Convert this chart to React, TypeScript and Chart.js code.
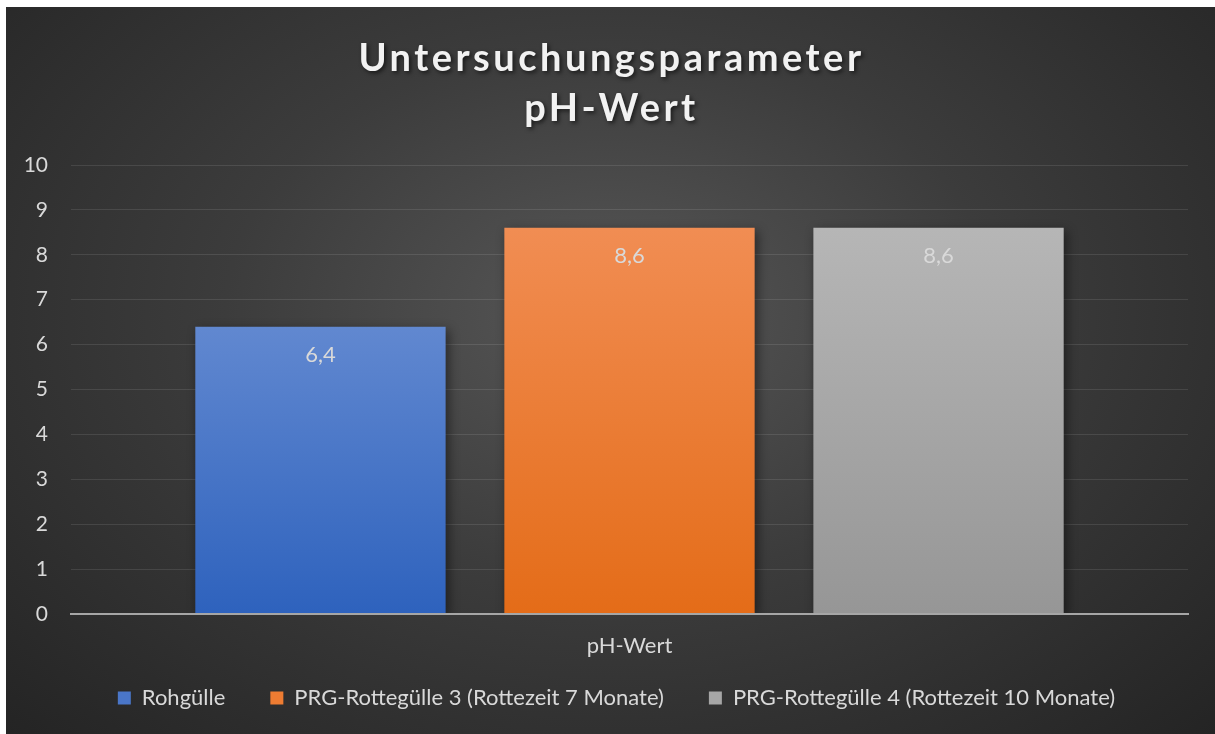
import React, { useEffect, useRef } from 'react';
import { Chart, registerables } from 'chart.js';

Chart.register(...registerables);

const categories = ['pH-Wert'];
const seriesNames = [
  'Rohgülle',
  'PRG-Rottegülle 3 (Rottezeit 7 Monate)',
  'PRG-Rottegülle 4 (Rottezeit 10 Monate)',
];
const rohguelleValues = [6.4];
const rotte3Values = [8.6];
const rotte4Values = [8.6];
const yTickValues = [0, 1, 2, 3, 4, 5, 6, 7, 8, 9, 10];
const titleLines = ['Untersuchungsparameter', 'pH-Wert'];

const topColors = ['#6188d0', '#f18d53', '#b6b6b6'];
const bottomColors = ['#2e62bd', '#e46c18', '#969696'];
const legendColors = ['#4a76c8', '#ee7c32', '#a6a6a6'];

const FONT = 'Lato, "Noto Sans", sans-serif';
const TEXT = '#d9d9d9';

const fmt = (v: number) => v.toFixed(1).replace('.', ',');

export default function App() {
  const ref = useRef<HTMLCanvasElement | null>(null);

  useEffect(() => {
    if (!ref.current) return;
    const seriesData = [rohguelleValues, rotte3Values, rotte4Values];

    const gradientFor = (i: number) => (ctx: any) => {
      const chart = ctx.chart;
      if (!chart.chartArea || ctx.type !== 'data') return legendColors[i];
      const y = chart.scales.y;
      const top = y.getPixelForValue(ctx.raw as number);
      const bottom = y.getPixelForValue(0);
      const g = chart.ctx.createLinearGradient(0, top, 0, bottom);
      g.addColorStop(0, topColors[i]);
      g.addColorStop(1, bottomColors[i]);
      return g;
    };

    const titlePlugin = {
      id: 'customTitle',
      afterDraw(chart: any) {
        const c = chart.ctx;
        c.save();
        c.font = `bold 38px ${FONT}`;
        (c as any).letterSpacing = '3.5px';
        c.fillStyle = '#f2f2f2';
        c.textAlign = 'center';
        c.textBaseline = 'alphabetic';
        c.shadowColor = 'rgba(0,0,0,0.6)';
        c.shadowBlur = 4;
        c.shadowOffsetX = 2;
        c.shadowOffsetY = 2;
        const cx = chart.width / 2 + 1;
        c.fillText(titleLines[0], cx, 64);
        c.fillText(titleLines[1], cx, 114);
        c.restore();
      },
    };

    const barPlugin = {
      id: 'barShadowLabels',
      beforeDatasetsDraw(chart: any) {
        const c = chart.ctx;
        c.save();
        c.shadowColor = 'rgba(0,0,0,0.45)';
        c.shadowBlur = 10;
        c.shadowOffsetX = 3;
        c.shadowOffsetY = 3;
      },
      afterDatasetsDraw(chart: any) {
        const c = chart.ctx;
        c.restore();
        c.save();
        c.font = `22px ${FONT}`;
        c.fillStyle = TEXT;
        c.textAlign = 'center';
        c.textBaseline = 'middle';
        chart.data.datasets.forEach((ds: any, di: number) => {
          const meta = chart.getDatasetMeta(di);
          meta.data.forEach((bar: any, idx: number) => {
            c.fillText(fmt(ds.data[idx]), bar.x, bar.y + 28);
          });
        });
        c.restore();
      },
    };

    const legendPlugin = {
      id: 'legendTweak',
      beforeInit(chart: any) {
        const lg = chart.legend;
        if (lg && !lg.__patched) {
          const f = lg.fit;
          lg.fit = function () {
            f.call(this);
            this.height = 75;
          };
          const d = lg.draw;
          lg.draw = function () {
            const c = this.ctx;
            c.save();
            c.translate(19.5, -17);
            d.call(this);
            c.restore();
          };
          lg.__patched = true;
        }
      },
    };

    const chart = new Chart(ref.current, {
      type: 'bar',
      data: {
        labels: categories,
        datasets: seriesNames.map((name, i) => ({
          label: name,
          data: seriesData[i],
          backgroundColor: gradientFor(i),
          borderWidth: 0,
          categoryPercentage: 0.83,
          barPercentage: 0.81,
        })),
      },
      options: {
        animation: false,
        responsive: false,
        maintainAspectRatio: false,
        layout: { padding: { top: 158, right: 27, left: 0, bottom: 0 } },
        plugins: {
          title: { display: false },
          tooltip: { enabled: false },
          legend: {
            display: true,
            position: 'bottom',
            labels: {
              color: TEXT,
              font: { family: FONT, size: 22 },
              boxWidth: 13,
              boxHeight: 13,
              padding: 45,
              generateLabels: (chart: any) =>
                chart.data.datasets.map((ds: any, i: number) => ({
                  text: ds.label,
                  fillStyle: legendColors[i],
                  strokeStyle: legendColors[i],
                  lineWidth: 0,
                  hidden: false,
                  datasetIndex: i,
                  fontColor: TEXT,
                })),
            },
          },
        },
        scales: {
          x: {
            grid: { display: false, drawTicks: false },
            border: { display: true, color: '#a6a6a6', width: 2, z: 1 },
            ticks: { color: TEXT, font: { family: FONT, size: 22 }, padding: 19 },
            afterFit: (s: any) => {
              s.height = 45;
            },
          },
          y: {
            min: 0,
            max: 10,
            afterBuildTicks: (s: any) => {
              s.ticks = yTickValues.map((v) => ({ value: v }));
            },
            grid: { color: 'rgba(255,255,255,0.10)', lineWidth: 1, drawTicks: false },
            border: { display: false },
            ticks: { color: TEXT, font: { family: FONT, size: 21 }, padding: 23 },
            afterFit: (s: any) => {
              s.width = 65;
            },
          },
        },
      },
      plugins: [titlePlugin, barPlugin, legendPlugin],
    } as any);

    return () => chart.destroy();
  }, []);

  return (
    <div
      style={{
        position: 'absolute',
        left: 6,
        top: 7,
        width: 1209,
        height: 727,
        background:
          'radial-gradient(ellipse farthest-corner at 50% 42%, #575757 0%, #3c3c3c 45%, #242424 100%)',
      }}
    >
      <canvas ref={ref} width={1209} height={727} style={{ display: 'block' }} />
    </div>
  );
}
